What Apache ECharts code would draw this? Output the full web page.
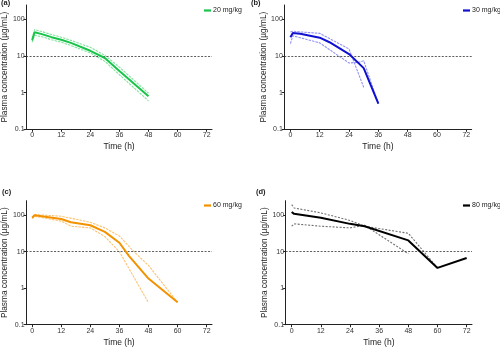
<!DOCTYPE html>
<html>
<head>
<meta charset="utf-8">
<script src="https://cdn.jsdelivr.net/npm/echarts@6/dist/echarts.min.js"></script>
<style>
  html, body { margin: 0; padding: 0; background: #fff; }
  #chart { width: 500px; height: 348px; }
</style>
</head>
<body>
<div id="chart"></div>
<script>
// Plasma concentration–time profiles, four dose groups (mean with upper/lower bounds)
const xTicks = [0, 12, 24, 36, 48, 60, 72];
const yTicks = [0.1, 1, 10, 100];
const threshold = 10;

// (a) 20 mg/kg
const timesA = [0, 1, 4, 8, 12, 16, 24, 30, 36, 48];
const meanA  = [27, 45, 40, 33, 28, 23, 14, 8.9, 3.9, 0.8];
const upperA = [31, 53, 47, 39, 33, 27, 17.4, 10.5, 5.0, 0.97];
const lowerA = [24, 37, 34, 28, 24, 19.5, 12.2, 7.2, 3.1, 0.6];

// (b) 30 mg/kg
const timesB      = [0, 1, 4, 12, 16, 24, 30, 36];
const meanB       = [33, 43, 41, 32, 24, 11.4, 4.7, 0.5];
const upperTimesB = [0, 1, 4, 12, 24, 30];
const upperB      = [46, 48, 46, 42, 15.7, 1.4];
const lowerTimesB = [0, 1, 4, 12, 24, 28, 30, 36];
const lowerB      = [22, 36, 32, 23, 6.5, 6.8, 7.5, 0.5];

// (c) 60 mg/kg
const timesC      = [0, 1, 12, 16, 24, 30, 36, 40, 48, 60];
const meanC       = [85, 100, 79, 64, 53, 35, 17.6, 7.6, 1.84, 0.41];
const upperTimesC = [0, 1, 12, 24, 30, 36, 42, 48, 60];
const upperC      = [88, 104, 94, 64, 45, 27, 10, 4.2, 0.41];
const lowerTimesC = [0, 1, 12, 16, 24, 30, 36, 48];
const lowerC      = [81, 94, 69, 50, 45, 26, 10, 0.4];

// (d) 80 mg/kg
const timesD      = [0, 1, 12, 24, 30, 48, 60, 72];
const meanD       = [123, 109, 85, 58, 50, 20.4, 3.6, 6.7];
const upperTimesD = [0, 1, 12, 24, 30, 48, 60];
const upperD      = [195, 158, 116, 72, 50, 32, 3.6];
const lowerTimesD = [0, 1, 12, 24, 30, 48];
const lowerD      = [50, 58, 50, 45, 53, 8.8];

const panels = [
  { label: '(a)', name: '20 mg/kg', main: '#19c44a', band: '#86e09e', dash: [2.5, 1],
    mean: [timesA, meanA], upper: [timesA, upperA], lower: [timesA, lowerA],
    grid: { left: 26, top: 5, width: 186, height: 124.3 },
    labelPos: { left: 1, top: -1 }, legendPos: { left: 204, top: 7 } },
  { label: '(b)', name: '30 mg/kg', main: '#1010d0', band: '#9393f5', dash: [2.5, 1],
    mean: [timesB, meanB], upper: [upperTimesB, upperB], lower: [lowerTimesB, lowerB],
    grid: { left: 284.3, top: 5, width: 187.4, height: 124.3 },
    labelPos: { left: 251, top: -1 }, legendPos: { left: 463, top: 7 } },
  { label: '(c)', name: '60 mg/kg', main: '#f39200', band: '#fbc475', dash: [2.5, 1],
    mean: [timesC, meanC], upper: [upperTimesC, upperC], lower: [lowerTimesC, lowerC],
    grid: { left: 26, top: 200.7, width: 186, height: 124 },
    labelPos: { left: 2, top: 188 }, legendPos: { left: 204, top: 202 } },
  { label: '(d)', name: '80 mg/kg', main: '#000000', band: '#707070', dash: [2, 1.5],
    mean: [timesD, meanD], upper: [upperTimesD, upperD], lower: [lowerTimesD, lowerD],
    grid: { left: 285.6, top: 200.7, width: 186.4, height: 124 },
    labelPos: { left: 256, top: 188 }, legendPos: { left: 463, top: 202 } }
];

const font = 'Liberation Sans, Arial, Helvetica, sans-serif';
const zip = (t, v) => t.map((x, i) => [x, v[i]]);

const grids = [], xAxes = [], yAxes = [], series = [], legends = [], titles = [];

panels.forEach((p, i) => {
  grids.push(Object.assign({ containLabel: false }, p.grid));
  xAxes.push({
    type: 'value', gridIndex: i, min: -2.5, max: 74.2,
    name: 'Time (h)', nameLocation: 'middle', nameGap: 13,
    nameTextStyle: { fontFamily: font, fontSize: 8.5, color: '#222' },
    axisLine: { show: true, onZero: false, lineStyle: { color: '#222', width: 1 } },
    axisTick: { show: true, length: 2.5, customValues: xTicks, lineStyle: { color: '#222' } },
    axisLabel: { customValues: xTicks, fontFamily: font, fontSize: 7, color: '#333', margin: 2.5 },
    splitLine: { show: false }
  });
  yAxes.push({
    type: 'log', logBase: 10, gridIndex: i, min: 0.1, max: 250,
    name: 'Plasma concentration (µg/mL)', nameLocation: 'middle', nameGap: 15.5,
    nameTextStyle: { fontFamily: font, fontSize: 8.3, color: '#222' },
    axisLine: { show: true, onZero: false, lineStyle: { color: '#222', width: 1 } },
    axisTick: { show: true, length: 2.5, customValues: yTicks, lineStyle: { color: '#222' } },
    axisLabel: { customValues: yTicks, fontFamily: font, fontSize: 7, color: '#333', margin: 1.5,
                 formatter: v => String(v) },
    splitLine: { show: false }
  });
  series.push({
    name: p.name, type: 'line', xAxisIndex: i, yAxisIndex: i,
    data: zip(p.mean[0], p.mean[1]), showSymbol: false, symbol: 'none', z: 5,
    lineStyle: { color: p.main, width: 2 }, itemStyle: { color: p.main },
    markLine: {
      silent: true, symbol: 'none', label: { show: false },
      lineStyle: { color: '#333', type: [2, 1.5], width: 0.8 },
      data: [{ yAxis: threshold }]
    }
  });
  [p.upper, p.lower].forEach((b, k) => {
    series.push({
      name: p.name + (k === 0 ? ' upper' : ' lower'), type: 'line', xAxisIndex: i, yAxisIndex: i,
      data: zip(b[0], b[1]), showSymbol: false, symbol: 'none', z: 3,
      lineStyle: { color: p.band, width: 1.1, type: p.dash }
    });
  });
  legends.push(Object.assign({
    data: [p.name], orient: 'vertical', icon: 'rect', itemWidth: 7, itemHeight: 2.2, itemGap: 0,
    padding: 0, selectedMode: false,
    textStyle: { fontFamily: font, fontSize: 7, color: '#222', padding: [0, 0, 0, -3] }
  }, p.legendPos));
  titles.push(Object.assign({
    text: p.label, padding: 0,
    textStyle: { fontFamily: font, fontSize: 7.5, fontWeight: 'bold', color: '#222' }
  }, p.labelPos));
});

const chart = echarts.init(document.getElementById('chart'), null, { renderer: 'canvas' });
chart.setOption({
  animation: false,
  backgroundColor: '#fff',
  title: titles,
  legend: legends,
  grid: grids,
  xAxis: xAxes,
  yAxis: yAxes,
  series: series
});
</script>
</body>
</html>
